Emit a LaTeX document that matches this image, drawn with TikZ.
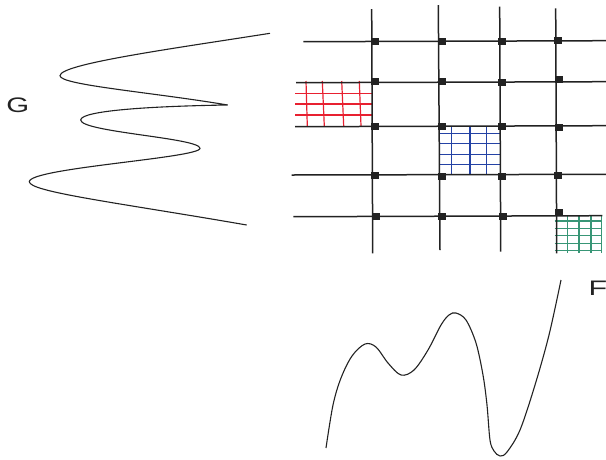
\documentclass[tikz,border=0pt]{standalone}
\usepackage{fontspec}
\setmainfont{Liberation Sans}
\usepackage{graphicx}
\definecolor{gridred}{RGB}{232,32,48}
\definecolor{gridblue}{RGB}{36,66,165}
\definecolor{gridgreen}{RGB}{56,150,118}
\definecolor{ink}{RGB}{34,34,34}
\begin{document}
\begin{tikzpicture}[x=1pt,y=-1pt,
  gridline/.style={draw=ink, line width=1.5pt},
  curve/.style={draw=ink, line width=1.1pt},
  joint/.style={fill=ink, draw=none, inner sep=0pt, minimum width=8pt, minimum height=7pt},
  redline/.style={draw=gridred, line width=1.2pt},
  blueline/.style={draw=gridblue, line width=1.2pt},
  greenline/.style={draw=gridgreen, line width=1.2pt},
  label/.style={text=ink, inner sep=0pt, font=\fontsize{21}{21}\selectfont}]
\useasboundingbox (0,0) rectangle (606,459);

% coloured fine grids
\foreach \y in {93.3,104,115} \draw[redline] (295,\y) -- (372,\y);
\foreach \a/\b in {306/307.3, 322.3/324.3, 341.7/343.7, 359.3/361}
  \draw[redline] (\a,81) -- (\b,126);
\foreach \y in {133.3,143.7,154.2,164.3} \draw[blueline] (439,\y) -- (500.5,\y);
\foreach \x in {451.7,470,486.7} \draw[blueline] (\x,126) -- (\x,174.5);
\foreach \y in {221,228.2,235.7,243.3,250.5} \draw[greenline] (554.5,\y) -- (602.3,\y);
\foreach \x in {567.5,579,591,601.7} \draw[greenline] (\x,215.5) -- (\x,252.5);

% main grid
\draw[gridline] (371.7,9) -- (372.7,253.3);
\draw[gridline] (438.3,5) -- (440,250);
\draw[gridline] (499.7,6.7) -- (500.7,251.7);
\draw[gridline] (555.7,8.3) -- (556.7,253.3);
\draw[gridline] (303.3,41.7) -- (606,40.7);
\draw[gridline] (296,82.7) -- (606,81.7);
\draw[gridline] (295,126.7) -- (606,125.7);
\draw[gridline] (291.7,175) -- (606,174.3);
\draw[gridline] (293.3,216.7) -- (602.3,215.7);

% joints
\node[joint] (j11) at (375,41.3) {};
\node[joint] (j12) at (441.7,41) {};
\node[joint] (j13) at (502.3,41) {};
\node[joint] (j14) at (558.3,40.7) {};
\node[joint] (j21) at (374.7,81.7) {};
\node[joint] (j22) at (441.7,81.7) {};
\node[joint] (j23) at (502.3,82.7) {};
\node[joint] (j24) at (559.3,79.3) {};
\node[joint] (j31) at (374.7,126) {};
\node[joint] (j32) at (441.7,126) {};
\node[joint] (j33) at (502.3,126) {};
\node[joint] (j34) at (558.7,127) {};
\node[joint] (j41) at (374.7,175) {};
\node[joint] (j42) at (441.7,176.7) {};
\node[joint] (j43) at (502.3,176.7) {};
\node[joint] (j44) at (558.3,175) {};
\node[joint] (j51) at (375.7,216) {};
\node[joint] (j52) at (442.3,216) {};
\node[joint] (j53) at (503.3,216) {};
\node[joint] (j54) at (559.3,212.3) {};

% G curve
\draw[curve] (270,33.3)
  .. controls (170,49) and (60,64) .. (60,75.7)
  .. controls (60,85) and (150,92) .. (227.7,105)
  .. controls (160,106) and (80.7,110) .. (80.7,120)
  .. controls (80.7,132) and (200,138) .. (200,148.3)
  .. controls (200,158) and (29.3,168) .. (29.3,181.7)
  .. controls (29.3,192) and (120,203) .. (246.7,225);

% F curve
\draw[curve] plot[smooth, tension=0.55] coordinates {
  (326,448) (333,405) (341,378) (352,356) (365,344) (376,347) (388,363)
  (401,375) (414,370) (428,350) (441,325) (449,315) (456,313) (466,320)
  (476,343) (483,375) (487,405) (490,440) (494,451) (500,456) (507,452)
  (520,430) (535,385) (549,335) (561,280)};

% labels
\node[label] (G) at (17.7,105.5) {\scalebox{1.4}[1]{G}};
\node[label] (F) at (598,288) {\scalebox{1.45}[1]{F}};
\end{tikzpicture}
\end{document}
